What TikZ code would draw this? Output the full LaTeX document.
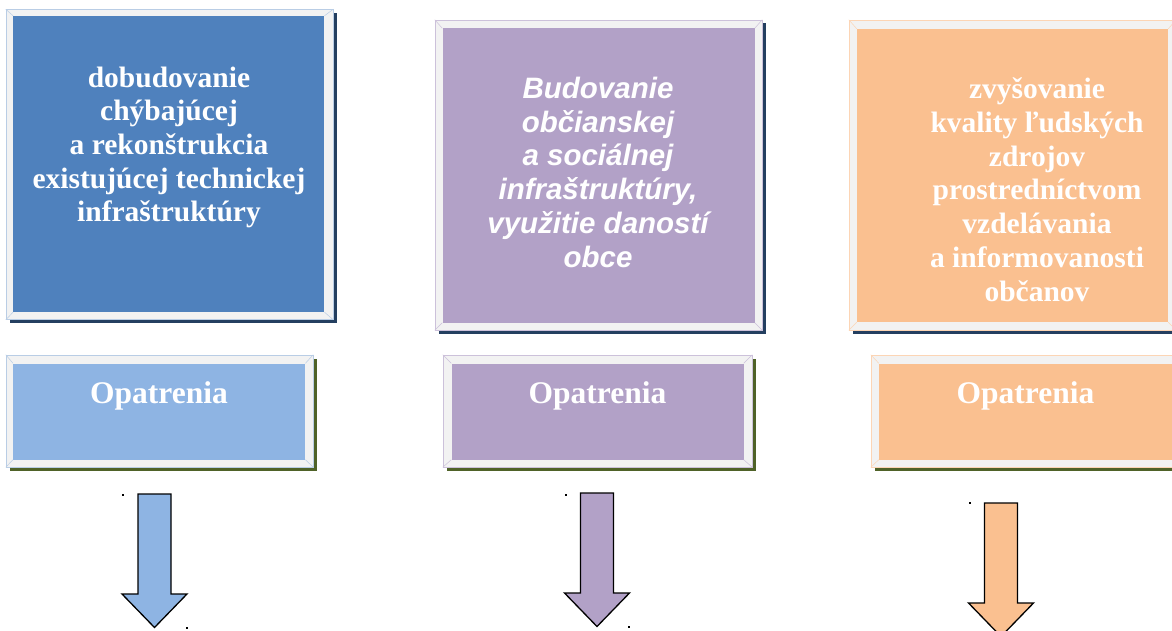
\documentclass[tikz,border=0pt]{standalone}
\usepackage{fontspec}
\setmainfont{Liberation Serif}
\newfontfamily\arialfont{Liberation Sans}
\usetikzlibrary{shadows}

\definecolor{framegray}{HTML}{F2F2F2}
\definecolor{blueedge}{HTML}{B9CDE5}
\definecolor{purpleedge}{HTML}{CCC1DA}
\definecolor{orangeedge}{HTML}{FCD5B5}
\definecolor{topblue}{HTML}{4F81BD}
\definecolor{opblue}{HTML}{8EB4E3}
\definecolor{purplefill}{HTML}{B2A1C7}
\definecolor{orangefill}{HTML}{FAC090}
\definecolor{navyshade}{HTML}{243F60}
\definecolor{oliveshade}{HTML}{4F6228}

\begin{document}
\begin{tikzpicture}[x=1pt,y=-1pt,
                    frame/.style={draw=#1,line width=0.6pt,fill=framegray,inner sep=0pt},
                    topframe/.style={frame=#1,drop shadow={shadow xshift=3.5pt,shadow yshift=-3.5pt,fill=navyshade,opacity=1}},
                    opframe/.style={frame=#1,drop shadow={shadow xshift=3.5pt,shadow yshift=-3.5pt,fill=oliveshade,opacity=1}},
                    fillbox/.style={fill=#1,inner sep=0pt},
                    bevel/.style={draw=#1,line width=0.5pt},
                    toptext/.style={anchor=base,align=center,text=white,inner sep=0pt,
                                    font=\bfseries\fontsize{29.5}{33.7}\selectfont},
                    optext/.style={anchor=base,text=white,inner sep=0pt,
                                   font=\bfseries\fontsize{31.5}{36}\selectfont},
                    blockarrow/.style={draw=black,line width=1.3pt,line join=miter}]
	\useasboundingbox (0,0) rectangle (1172,631);
	\clip (0,0) rectangle (1172,631);
	% goals
	\node[topframe=blueedge,minimum width=327,minimum height=310]	(f1) at (169.5,164.5) {};
	\node[fillbox=topblue,minimum width=311,minimum height=296]		(b1) at (168.8,164) {};
	\node[topframe=purpleedge,minimum width=327,minimum height=310]	(f2) at (598.5,175) {};
	\node[fillbox=purplefill,minimum width=312,minimum height=294]		(b2) at (598.5,175.5) {};
	\node[topframe=orangeedge,minimum width=327,minimum height=310]	(f3) at (1012.5,175) {};
	\node[fillbox=orangefill,minimum width=311,minimum height=293]		(b3) at (1012.5,175.5) {};
	% measures
	\node[opframe=blueedge,minimum width=307,minimum height=112]	(f4) at (159.5,411) {};
	\node[fillbox=opblue,minimum width=292,minimum height=96]		(b4) at (159.2,411.5) {};
	\node[opframe=purpleedge,minimum width=309,minimum height=112]	(f5) at (597.5,411) {};
	\node[fillbox=purplefill,minimum width=292,minimum height=96]		(b5) at (597.5,411.5) {};
	\node[opframe=orangeedge,minimum width=309,minimum height=112]	(f6) at (1025.5,411) {};
	\node[fillbox=orangefill,minimum width=293,minimum height=96]		(b6) at (1025.5,411.5) {};
	\foreach \b/\e in {1/blueedge,2/purpleedge,3/orangeedge,4/blueedge,5/purpleedge,6/orangeedge}
		\foreach \c in {north west,north east,south west,south east}
			\draw[bevel=\e] (f\b.\c) -- (b\b.\c);
	% texts (base = last line)
	\node[toptext]	(t1) at (169,222)	{dobudovanie\\chýbajúcej\\a rekonštrukcia\\existujúcej technickej\\infraštruktúry};
	\node[toptext,font=\arialfont\bfseries\itshape\fontsize{29.5}{33.7}\selectfont]
					(t2) at (598,267)	{Budovanie\\občianskej\\a sociálnej\\infraštruktúry,\\využitie daností\\obce};
	\node[toptext]	(t3) at (1037,301)	{zvyšovanie\\kvality ľudských\\zdrojov\\prostredníctvom\\vzdelávania\\a informovanosti\\občanov};
	\node[optext]	(m1) at (159,403)	{Opatrenia};
	\node[optext]	(m2) at (597.5,403)	{Opatrenia};
	\node[optext]	(m3) at (1025.5,403)	{Opatrenia};
	% arrows
	\foreach \x/\t/\c in {154.5/494/opblue,597/493/purplefill,1001/503/orangefill}
		\draw[blockarrow,fill=\c] (\x-16.5,\t) -- (\x+16.5,\t) -- (\x+16.5,\t+100) -- (\x+32.5,\t+100)
			-- (\x,\t+133.5) -- (\x-32.5,\t+100) -- (\x-16.5,\t+100) -- cycle;
	\foreach \x/\y in {123/495,187/628,566/495,629/627,970/503}
		\fill (\x-1,\y-1) rectangle (\x+1,\y+1);
\end{tikzpicture}
\end{document}
